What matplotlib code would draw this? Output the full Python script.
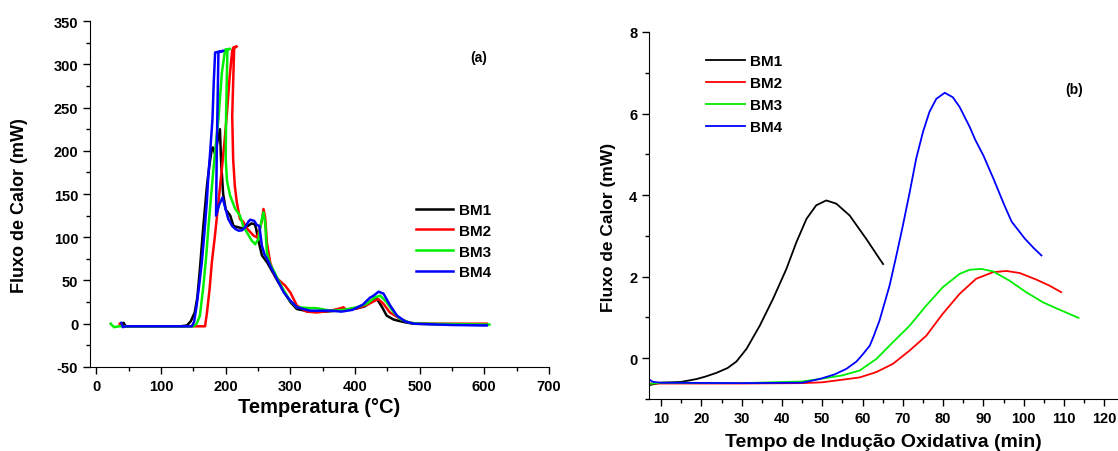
import matplotlib
matplotlib.use('Agg')
import matplotlib.pyplot as plt
from matplotlib.ticker import MultipleLocator

plt.rcParams['font.family'] = ['Liberation Sans', 'DejaVu Sans']
plt.rcParams['font.weight'] = 'bold'

# (a) DSC curves: temperature (C) vs heat flow (mW)
bm1_t = [40, 42, 45, 60, 100, 130, 140, 146, 152, 156, 160, 165, 171, 175, 178, 180,
         183.7, 187, 191, 193, 196, 200, 207, 212, 222, 228, 234, 240, 245, 247, 250,
         256, 264, 270, 279, 290, 300, 310, 330, 350, 362, 382, 403, 415, 424, 434,
         442, 449, 460, 475, 490, 550, 600]
bm1_q = [0, 1, -3, -3, -3, -3, -2, 3, 13, 30, 63, 110, 160, 185, 200, 204,
         196, 210, 225, 185, 150, 132, 125, 113, 111, 110, 113, 116, 115, 110, 98,
         79, 71, 63, 51, 37, 25, 17, 14, 14, 14.4, 16, 17.8, 20, 25, 28.6,
         19, 9.3, 4.7, 2, 0, -1, -1.5]

bm2_t = [36, 38, 42, 60, 100, 140, 160, 168, 171, 175, 178.5, 183, 186, 190, 194,
         198, 202, 206, 210, 212, 217.2, 213, 210, 211.5, 214, 217, 222, 227, 233, 238,
         243, 248, 252, 256, 258.4, 261, 263.6, 268.7, 275, 280, 286, 292, 300, 310,
         325, 341, 362, 377, 382, 387, 403, 418, 431, 436, 444, 454, 470, 485, 500, 604]
bm2_q = [0, 0, -3, -3, -3, -3, -3, -3, 13, 40, 71, 100, 121, 150, 179,
         210, 245, 285, 316, 319.6, 320.7, 319, 240, 190, 160, 141, 121, 118, 110, 106,
         102, 100, 108, 119, 132.7, 123, 94, 71, 57, 52, 48, 44, 36, 21,
         14, 13, 15, 17.8, 19, 16, 17.8, 21.7, 26.6, 28.5, 23, 13, 5.5, 1, 0, 0]

bm3_t = [22, 27, 35, 60, 100, 140, 150, 155, 160, 165.5, 170, 173, 177, 181, 185,
         188.7, 194, 199, 206.8, 202.6, 200.5, 200, 202, 206.8, 214.6, 222, 227, 234,
         240.4, 245.5, 250.6, 253, 255.9, 258.4, 261, 263.6, 268, 275, 285, 299, 310,
         330, 340, 362, 382, 403, 418, 431, 439, 449, 460, 470, 485, 500, 608]
bm3_q = [0, -4, -3, -3, -3, -3, -3, 0, 9.3, 44, 80, 110, 145, 179, 210,
         237, 290, 317, 318, 317, 240, 190, 165, 148, 133, 125, 113, 104,
         96, 92, 98, 110, 121, 128.8, 117, 82.6, 70, 60, 45, 27, 19,
         18, 18, 15, 16, 19, 23, 30.6, 32.4, 24.8, 13, 5.5, 1, 0, -1]

bm4_t = [38.5, 41, 45, 60, 100, 140, 147.5, 151, 155, 159, 163, 167, 170.7, 173,
         175.9, 179.5, 181.5, 183.6, 196.5, 188.7, 186.2, 185, 190, 195, 200, 204, 210,
         215, 220, 225, 230, 235, 238, 244, 248, 252, 256, 260, 264, 270, 279, 290,
         300, 310, 330, 346, 362, 379, 396, 412, 423, 428.6, 436.4, 444, 454.5, 465,
         478, 491, 550, 604]
bm4_q = [1, -4, -3, -3, -3, -3, -3, 2, 21, 45, 71, 105, 140.7, 170,
         198.6, 237, 280, 313.8, 315.7, 314, 204, 125, 138, 146, 132, 121, 113,
         109.5, 107.6, 108, 111.5, 118, 120.3, 119, 114.4, 113, 90, 80, 75, 65, 52, 36,
         26.6, 19, 15.1, 15, 15.1, 14, 16, 22, 30, 32.4, 37, 34.8, 20.9, 9.3,
         2.5, 0, -1.5, -2]

# (b) OIT curves: time (min) vs heat flow (mW)
oit1_t = [7, 10, 15, 18.8, 21, 23.7, 26.5, 28.7, 31.2, 34.5, 37.8, 41.1, 43.6, 46.1,
          48.5, 51.0, 53.5, 56.8, 60.9, 64.2, 65.1]
oit1_q = [-0.66, -0.6, -0.58, -0.51, -0.45, -0.36, -0.24, -0.08, 0.23, 0.80, 1.46, 2.19,
          2.85, 3.42, 3.75, 3.87, 3.79, 3.50, 2.93, 2.44, 2.31]

oit2_t = [7, 10, 30, 45, 50, 55.5, 59.3, 63.4, 67.5, 71.7, 75.8, 79.9, 84.1, 88.2,
          92.4, 95.7, 99.0, 103.1, 106.4, 109.3]
oit2_q = [-0.62, -0.62, -0.62, -0.61, -0.59, -0.52, -0.47, -0.34, -0.14, 0.19, 0.55,
          1.09, 1.58, 1.95, 2.11, 2.14, 2.09, 1.93, 1.78, 1.62]

oit3_t = [7, 10, 30, 45, 50, 55, 59.3, 63.4, 67.5, 71.7, 75.8, 79.9, 84.1, 86.6, 89.5,
          92.4, 96.5, 100.6, 104.8, 108.9, 113.6]
oit3_q = [-0.63, -0.6, -0.61, -0.57, -0.5, -0.42, -0.30, -0.02, 0.39, 0.80, 1.29, 1.74,
          2.07, 2.17, 2.19, 2.13, 1.90, 1.62, 1.37, 1.19, 0.99]

oit4_t = [7, 8, 10, 30, 45, 49.3, 53, 56.0, 58.5, 60.1, 61.8, 62.6, 64.2, 66.7, 68.4,
          70.0, 71.7, 73.3, 75.0, 76.6, 78.3, 80.4, 82.4, 84.1, 86.6, 88, 90, 92.5,
          95.2, 97, 100.3, 102.5, 104.4]
oit4_q = [-0.52, -0.58, -0.6, -0.61, -0.6, -0.51, -0.4, -0.26, -0.08, 0.1, 0.31, 0.5,
          0.92, 1.78, 2.52, 3.25, 4.07, 4.89, 5.55, 6.04, 6.36, 6.51, 6.40, 6.16, 5.67,
          5.35, 4.97, 4.4, 3.75, 3.35, 2.93, 2.7, 2.52]

labels = ['BM1', 'BM2', 'BM3', 'BM4']
colors = ['#000000', '#ff0000', '#00ee00', '#0000ff']

# tick values
temp_ticks = [0, 100, 200, 300, 400, 500, 600, 700]
dsc_ticks = [-50, 0, 50, 100, 150, 200, 250, 300, 350]
time_ticks = [10, 20, 30, 40, 50, 60, 70, 80, 90, 100, 110, 120]
oit_ticks = [0, 2, 4, 6, 8]

fig = plt.figure(figsize=(11.18, 4.52), dpi=100)
ax1 = fig.add_axes([0.0805, 0.186, 0.4105, 0.765])
ax2 = fig.add_axes([0.5805, 0.115, 0.4195, 0.812])

for t, q, lab, c in zip([bm1_t, bm2_t, bm3_t, bm4_t], [bm1_q, bm2_q, bm3_q, bm4_q],
                        labels, colors):
    ax1.plot(t, q, color=c, lw=1.8, label=lab)

for t, q, lab, c in zip([oit1_t, oit2_t, oit3_t, oit4_t], [oit1_q, oit2_q, oit3_q, oit4_q],
                        labels, colors):
    ax2.plot(t, q, color=c, lw=1.3, label=lab)

tick_font = dict(fontsize=10.5, fontweight='bold', family='Liberation Sans')

ax1.set_xlim(-10, 700)
ax1.set_ylim(-50, 350)
ax1.set_xticks(temp_ticks)
ax1.set_xticklabels([str(v) for v in temp_ticks], **tick_font)
ax1.set_yticks(dsc_ticks)
ax1.set_yticklabels([str(v) for v in dsc_ticks], **tick_font)
ax1.xaxis.set_minor_locator(MultipleLocator(50))
ax1.yaxis.set_minor_locator(MultipleLocator(25))
ax1.set_xlabel('Temperatura (°C)', fontsize=14.5, fontweight='bold', labelpad=3)
ax1.set_ylabel('Fluxo de Calor (mW)', fontsize=13, fontweight='bold')
ax1.yaxis.set_label_coords(-0.135, 0.471)
ax1.text(0.828, 0.896, '(a)', transform=ax1.transAxes, fontsize=10,
         fontweight='bold', va='center')

ax2.set_xlim(7, 123.4)
ax2.set_ylim(-1, 8)
ax2.set_xticks(time_ticks)
ax2.set_xticklabels([str(v) for v in time_ticks], **tick_font)
ax2.set_yticks(oit_ticks)
ax2.set_yticklabels([str(v) for v in oit_ticks], **tick_font)
ax2.xaxis.set_minor_locator(MultipleLocator(5))
ax2.yaxis.set_minor_locator(MultipleLocator(1))
ax2.set_xlabel('Tempo de Indução Oxidativa (min)', fontsize=14, fontweight='bold',
               labelpad=6)
ax2.set_ylabel('Fluxo de Calor (mW)', fontsize=12.5, fontweight='bold')
ax2.yaxis.set_label_coords(-0.07, 0.471)
ax2.text(0.887, 0.845, '(b)', transform=ax2.transAxes, fontsize=10,
         fontweight='bold', va='center')

for ax in (ax1, ax2):
    ax.spines['top'].set_visible(False)
    ax.spines['right'].set_visible(False)
    ax.tick_params(which='major', direction='out', length=5, width=1)
    ax.tick_params(which='minor', direction='out', length=3, width=1)

fig.legend(*ax1.get_legend_handles_labels(), loc='upper left',
           bbox_to_anchor=(0.372, 0.549), frameon=False, fontsize=11,
           handlelength=2.45, handletextpad=0.35, labelspacing=0.45, borderpad=0,
           borderaxespad=0)
fig.legend(*ax2.get_legend_handles_labels(), loc='upper left',
           bbox_to_anchor=(0.6315, 0.878), frameon=False, fontsize=11,
           handlelength=2.55, handletextpad=0.35, labelspacing=0.52, borderpad=0,
           borderaxespad=0)

fig.savefig('out.png', dpi=100)
